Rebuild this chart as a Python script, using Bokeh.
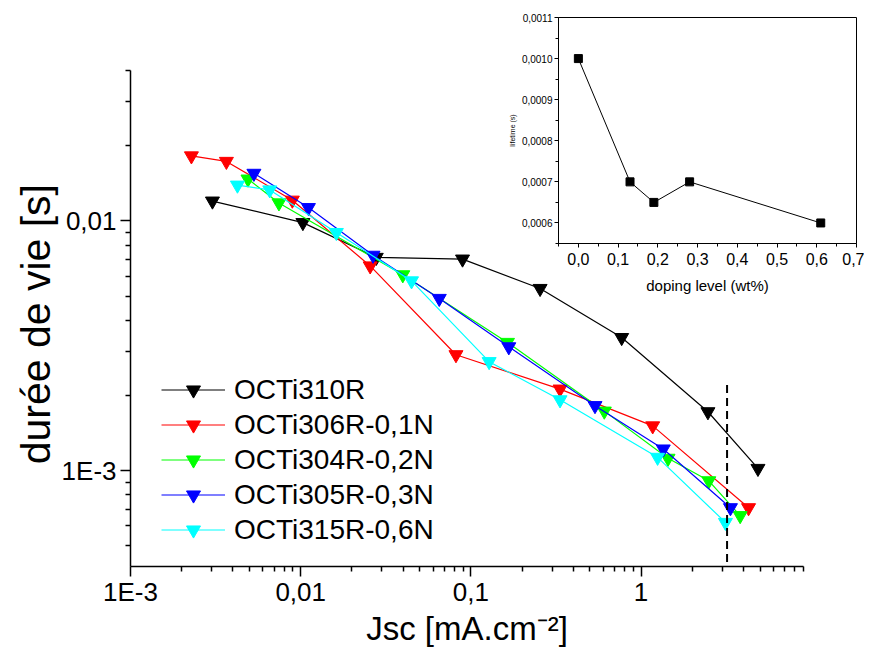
from bokeh.plotting import figure
from bokeh.models import FixedTicker, Legend, LegendItem, GridBox, Range1d
from bokeh.embed import file_html
from bokeh.resources import INLINE

FONT = "Liberation Sans"

# ---------------- main chart data ----------------
series_names = ["OCTi310R", "OCTi306R-0,1N", "OCTi304R-0,2N", "OCTi305R-0,3N", "OCTi315R-0,6N"]
series_colors = ["#000000", "#ff0000", "#00ff00", "#0000ff", "#00ffff"]

jsc_310 = [0.00303, 0.0103, 0.0278, 0.0893, 0.255, 0.769, 2.47, 4.86]
tau_310 = [0.0120, 0.00984, 0.00714, 0.00703, 0.00536, 0.00341, 0.00172, 0.00102]
jsc_306 = [0.00228, 0.00366, 0.00893, 0.0256, 0.0817, 0.334, 1.17, 4.28]
tau_306 = [0.0182, 0.0173, 0.0121, 0.0066, 0.00291, 0.00212, 0.00151, 0.00071]
jsc_304 = [0.0049, 0.00745, 0.0398, 0.164, 0.608, 1.44, 2.50, 3.82]
tau_304 = [0.0147, 0.0118, 0.00608, 0.00326, 0.00173, 0.00112, 0.00091, 0.00066]
jsc_305 = [0.00531, 0.0111, 0.0266, 0.0652, 0.167, 0.536, 1.35, 3.35]
tau_305 = [0.0155, 0.0113, 0.00728, 0.00489, 0.00313, 0.00182, 0.00122, 0.00071]
jsc_315 = [0.00425, 0.00658, 0.0162, 0.0448, 0.128, 0.334, 1.25, 3.13]
tau_315 = [0.0139, 0.0133, 0.00898, 0.00575, 0.00273, 0.00192, 0.00113, 0.00062]

series_x = [jsc_310, jsc_306, jsc_304, jsc_305, jsc_315]
series_y = [tau_310, tau_306, tau_304, tau_305, tau_315]

# dashed marker line
vline_jsc = [3.2, 3.2]
vline_tau = [0.0022, 0.0001]

x_major = [0.001, 0.01, 0.1, 1.0]
x_major_labels = ["1E-3", "0,01", "0,1", "1"]
y_major = [0.001, 0.01]
y_major_labels = ["1E-3", "0,01"]

# ---------------- inset data ----------------
doping = [0.0, 0.13, 0.19, 0.28, 0.61]
lifetime = [0.0010, 0.0007, 0.00065, 0.0007, 0.0006]
inset_x_ticks = [0.0, 0.1, 0.2, 0.3, 0.4, 0.5, 0.6, 0.7]
inset_x_labels = ["0,0", "0,1", "0,2", "0,3", "0,4", "0,5", "0,6", "0,7"]
inset_y_ticks = [0.0006, 0.0007, 0.0008, 0.0009, 0.0010, 0.0011]
inset_y_labels = ["0,0006", "0,0007", "0,0008", "0,0009", "0,0010", "0,0011"]

# ---------------- main figure ----------------
x_minor = [m * 10.0 ** e for e in range(-3, 1) for m in range(2, 10)]
y_minor = [m * 10.0 ** e for e in range(-4, -1) for m in range(2, 10)]

p = figure(width=857, height=641, x_axis_type="log", y_axis_type="log",
           x_range=Range1d(1e-3, 9), y_range=Range1d(4.13e-4, 0.04),
           output_backend="svg", toolbar_location=None,
           min_border_left=122, min_border_top=62, min_border_right=62, min_border_bottom=83)
p.outline_line_color = None
p.xgrid.visible = False
p.ygrid.visible = False
p.background_fill_color = "white"
p.border_fill_color = "white"

p.xaxis.ticker = FixedTicker(ticks=x_major, minor_ticks=x_minor)
p.yaxis.ticker = FixedTicker(ticks=y_major, minor_ticks=y_minor)
p.xaxis.major_label_overrides = dict(zip(x_major, x_major_labels))
p.yaxis.major_label_overrides = dict(zip(y_major, y_major_labels))

for ax in (p.xaxis[0], p.yaxis[0]):
    ax.axis_line_width = 1.5
    ax.axis_line_color = "black"
    ax.major_tick_line_width = 1.5
    ax.minor_tick_line_width = 1.5
    ax.major_tick_line_color = "black"
    ax.minor_tick_line_color = "black"
    ax.major_tick_out = 10
    ax.major_tick_in = 0
    ax.minor_tick_out = 5
    ax.minor_tick_in = 0
    ax.major_label_text_font = FONT
    ax.major_label_text_font_size = "26px"
    ax.major_label_text_color = "black"
    ax.axis_label_text_font = FONT
    ax.axis_label_text_font_style = "normal"
    ax.axis_label_text_color = "black"

p.xaxis.axis_label = "Jsc [mA.cm\u207b\u00b2]"
p.xaxis.axis_label_text_font_size = "33px"
p.xaxis.axis_label_standoff = 0
p.xaxis.major_label_standoff = 0
p.yaxis.axis_label = "durée de vie  [s]"
p.yaxis.axis_label_text_font_size = "41px"
p.yaxis.axis_label_standoff = 0
p.yaxis.major_label_standoff = 4

items = []
for name, color, xs, ys in zip(series_names, series_colors, series_x, series_y):
    r_line = p.line(xs, ys, line_color=color, line_width=1.2)
    r_mark = p.scatter(xs, ys, marker="inverted_triangle", size=14,
                       fill_color=color, line_color=color)
    items.append(LegendItem(label=name, renderers=[r_line, r_mark]))

p.line(vline_jsc, vline_tau, line_color="black", line_width=2, line_dash="8 5")

legend = Legend(items=items, location=(31, 19))
legend.border_line_color = None
legend.background_fill_alpha = 0
legend.glyph_width = 64
legend.glyph_height = 35
legend.label_height = 35
legend.spacing = 0
legend.padding = 0
legend.margin = 0
legend.label_standoff = 9
legend.label_text_font = FONT
legend.label_text_font_size = "28px"
legend.label_text_color = "black"
p.add_layout(legend)

# ---------------- inset figure ----------------
pi = figure(width=362, height=288, x_range=Range1d(-0.05, 0.7), y_range=Range1d(0.00055, 0.0011),
            output_backend="svg", toolbar_location=None,
            min_border_left=56, min_border_top=8, min_border_right=8, min_border_bottom=54)
pi.border_fill_color = None
pi.background_fill_color = "white"
pi.outline_line_color = "black"
pi.outline_line_width = 1
pi.outline_line_alpha = 1
pi.xgrid.visible = False
pi.ygrid.visible = False

inset_x_minor = [-0.05, 0.05, 0.15, 0.25, 0.35, 0.45, 0.55, 0.65]
inset_y_minor = [0.00055, 0.00065, 0.00075, 0.00085, 0.00095, 0.00105]
pi.xaxis.ticker = FixedTicker(ticks=inset_x_ticks, minor_ticks=inset_x_minor)
pi.yaxis.ticker = FixedTicker(ticks=inset_y_ticks, minor_ticks=inset_y_minor)
pi.xaxis.major_label_overrides = dict(zip(inset_x_ticks, inset_x_labels))
pi.yaxis.major_label_overrides = dict(zip(inset_y_ticks, inset_y_labels))

for ax in (pi.xaxis[0], pi.yaxis[0]):
    ax.axis_line_color = "black"
    ax.axis_line_width = 1
    ax.major_tick_line_color = "black"
    ax.minor_tick_line_color = "black"
    ax.major_tick_out = 4
    ax.major_tick_in = 0
    ax.minor_tick_out = 3
    ax.minor_tick_in = 0
    ax.major_label_text_font = FONT
    ax.major_label_text_color = "black"
    ax.axis_label_text_font = FONT
    ax.axis_label_text_font_style = "normal"
    ax.axis_label_text_color = "black"

pi.xaxis.major_label_text_font_size = "16px"
pi.xaxis.major_label_standoff = 5
pi.xaxis.axis_label = "doping level (wt%)"
pi.xaxis.axis_label_text_font_size = "15px"
pi.xaxis.axis_label_standoff = 9
pi.yaxis.major_label_text_font_size = "10px"
pi.yaxis.major_label_standoff = 2
pi.yaxis.axis_label = "lifetime (s)"
pi.yaxis.axis_label_text_font_size = "7px"
pi.yaxis.axis_label_standoff = 3

pi.line(doping, lifetime, line_color="black", line_width=1)
pi.scatter(doping, lifetime, marker="square", size=8, fill_color="black", line_color="black")

# leading 8px tracks reproduce the page margin; the inset shares no grid
# line with the main chart, so their frames are not aligned to each other
grid = GridBox(children=[(p, 1, 1, 3, 3), (pi, 2, 2, 1, 1)],
               rows=["8px", "1px", "288px", "352px"],
               cols=["8px", "494px", "362px", "1px"], spacing=0)

open("out.html", "w").write(file_html(grid, INLINE))
